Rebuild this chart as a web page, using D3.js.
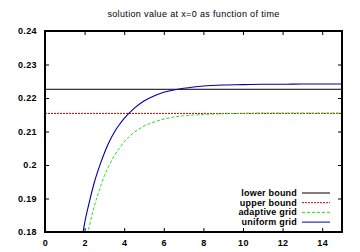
<!DOCTYPE html>
<html>
<head>
<meta charset="utf-8">
<script src="https://cdn.jsdelivr.net/npm/d3@7"></script>
<style>
  body { margin: 0; background: #fff; }
  text { font-family: "Liberation Sans", Arial, sans-serif; }
</style>
</head>
<body>
<div id="chart"></div>
<script>
var title = 'solution value at x=0 as function of time';

var xTicks = [0, 2, 4, 6, 8, 10, 12, 14];
var yTicks = [0.18, 0.19, 0.2, 0.21, 0.22, 0.23, 0.24];

var lowerBound = 0.2226;
var upperBound = 0.2154;

// uniform grid (blue, solid)
var uniformT = [1.9, 2.0, 2.25, 2.5, 2.75, 3.0, 3.25, 3.5, 3.75, 4.0, 4.5, 5.0, 5.5, 6.0, 6.5, 7.0, 7.5, 8.0, 9.0, 10.0, 11.0, 12.0, 13.0, 14.0, 15.0];
var uniformV = [0.1792, 0.1826, 0.1892, 0.1950, 0.1996, 0.2036, 0.2070, 0.2098, 0.2120, 0.2139, 0.2169, 0.2191, 0.2206, 0.2217, 0.2224, 0.2229, 0.2233, 0.2236, 0.2239, 0.2240, 0.2241, 0.2241, 0.2242, 0.2242, 0.2242];

// adaptive grid (green, dashed)
var adaptiveT = [2.15, 2.25, 2.5, 2.75, 3.0, 3.25, 3.5, 3.75, 4.0, 4.5, 5.0, 5.5, 6.0, 6.5, 7.0, 7.5, 8.0, 9.0, 10.0, 11.0, 12.0, 13.0, 14.0, 15.0];
var adaptiveV = [0.1792, 0.1820, 0.1879, 0.1926, 0.1968, 0.2000, 0.2028, 0.2050, 0.2069, 0.2097, 0.2116, 0.2128, 0.2137, 0.2143, 0.2147, 0.2149, 0.2151, 0.2153, 0.2154, 0.2155, 0.2155, 0.2155, 0.2155, 0.2155];

var legendNames = ['lower bound', 'upper bound', 'adaptive grid', 'uniform grid'];
var legendColors = ['#000000', '#c00000', '#22dd22', '#0000a0'];
var legendDash = [null, '2,1', '3,2', null];

var width = 360, height = 252;
var margin = {top: 31, right: 18, bottom: 20, left: 45};
var w = width - margin.left - margin.right;
var h = height - margin.top - margin.bottom;

var svg = d3.select('#chart').append('svg')
    .attr('width', width)
    .attr('height', height);

var x = d3.scaleLinear().domain([0, 15]).range([0, w]);
var y = d3.scaleLinear().domain([0.18, 0.24]).range([h, 0]);

svg.append('text')
    .attr('x', margin.left + w / 2)
    .attr('y', 17)
    .attr('text-anchor', 'middle')
    .style('font-size', '9px')
    .style('letter-spacing', '0.35px')
    .text(title);

var g = svg.append('g')
    .attr('transform', 'translate(' + margin.left + ',' + margin.top + ')');

g.append('clipPath').attr('id', 'clip')
  .append('rect').attr('width', w).attr('height', h);

var plot = g.append('g').attr('clip-path', 'url(#clip)');

// bounds
plot.append('line')
    .attr('x1', 0).attr('x2', w)
    .attr('y1', y(lowerBound)).attr('y2', y(lowerBound))
    .attr('stroke', legendColors[0]).attr('stroke-width', 1);
plot.append('line')
    .attr('x1', 0).attr('x2', w)
    .attr('y1', y(upperBound)).attr('y2', y(upperBound))
    .attr('stroke', legendColors[1]).attr('stroke-width', 1)
    .attr('stroke-dasharray', legendDash[1]);

var line = d3.line()
    .x(function(d) { return x(d[0]); })
    .y(function(d) { return y(d[1]); })
    .curve(d3.curveMonotoneX);

plot.append('path')
    .datum(d3.zip(adaptiveT, adaptiveV))
    .attr('fill', 'none')
    .attr('stroke', legendColors[2])
    .attr('stroke-width', 1)
    .attr('stroke-dasharray', legendDash[2])
    .attr('d', line);

plot.append('path')
    .datum(d3.zip(uniformT, uniformV))
    .attr('fill', 'none')
    .attr('stroke', legendColors[3])
    .attr('stroke-width', 1.1)
    .attr('d', line);

// axes, gnuplot style ticks inward on all sides
var fmtY = function(d) { return d3.format('')(+d.toFixed(2)); };

g.append('g')
    .attr('transform', 'translate(0,' + h + ')')
    .call(d3.axisBottom(x).tickValues(xTicks).tickSizeInner(-4).tickSizeOuter(0).tickPadding(8))
    .call(function(a) { a.select('.domain').remove(); });
g.append('g')
    .call(d3.axisTop(x).tickValues(xTicks).tickSizeInner(-4).tickSizeOuter(0).tickFormat(''))
    .call(function(a) { a.select('.domain').remove(); });
g.append('g')
    .call(d3.axisLeft(y).tickValues(yTicks).tickSizeInner(-4).tickSizeOuter(0).tickPadding(8).tickFormat(fmtY))
    .call(function(a) { a.select('.domain').remove(); });
g.append('g')
    .attr('transform', 'translate(' + w + ',0)')
    .call(d3.axisRight(y).tickValues(yTicks).tickSizeInner(-4).tickSizeOuter(0).tickFormat(''))
    .call(function(a) { a.select('.domain').remove(); });

g.selectAll('.tick text')
    .style('font-size', '9px')
    .style('font-weight', 'bold')
    .style('letter-spacing', '0.4px')
    .attr('fill', '#000');
g.selectAll('.tick line').attr('stroke', '#000');

g.append('rect')
    .attr('width', w).attr('height', h)
    .attr('fill', 'none')
    .attr('stroke', '#000')
    .attr('stroke-width', 2);

// legend
var legend = g.append('g')
    .attr('transform', 'translate(' + (w - 45) + ',' + (h - 39) + ')');
var rows = legend.selectAll('g').data(legendNames).enter().append('g')
    .attr('transform', function(d, i) { return 'translate(0,' + (i * 9.7) + ')'; });
rows.append('text')
    .attr('text-anchor', 'end')
    .attr('dy', '0.32em')
    .style('font-size', '9px')
    .style('font-weight', 'bold')
    .style('letter-spacing', '0.2px')
    .text(function(d) { return d; });
rows.append('line')
    .attr('x1', 5).attr('x2', 33)
    .attr('stroke', function(d, i) { return legendColors[i]; })
    .attr('stroke-dasharray', function(d, i) { return legendDash[i]; })
    .attr('stroke-width', 1);
</script>
</body>
</html>
